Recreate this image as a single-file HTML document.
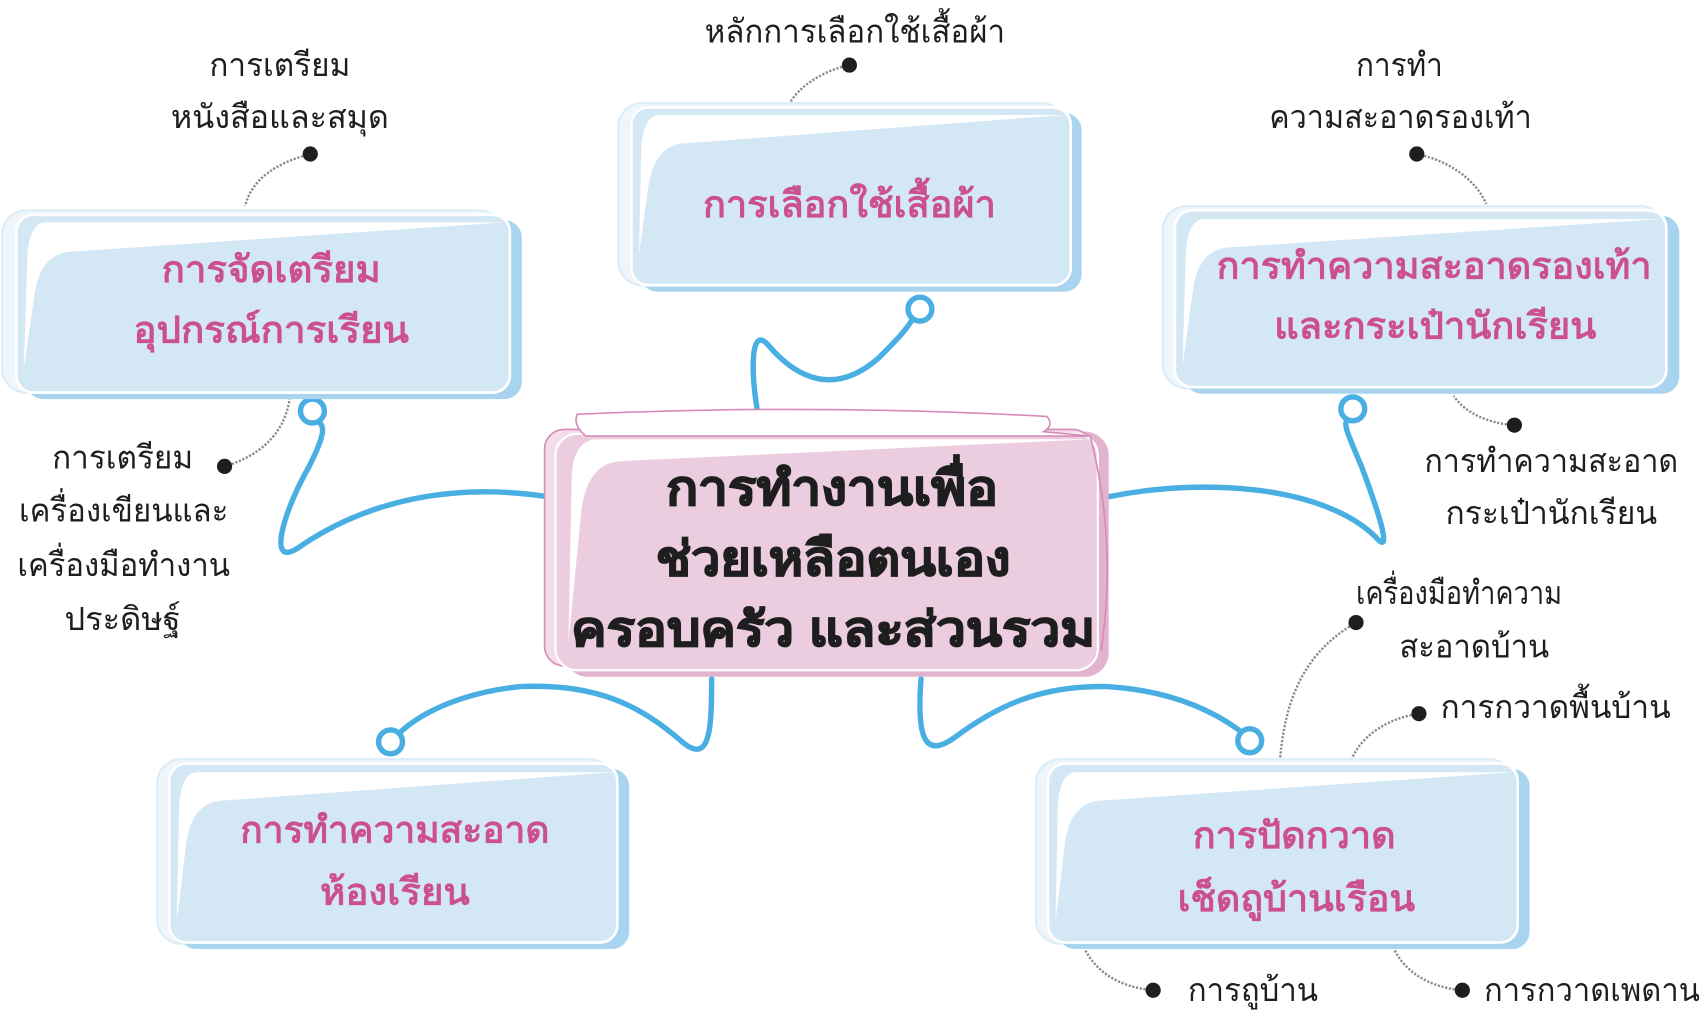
<!DOCTYPE html>
<html><head><meta charset="utf-8">
<style>
html,body{margin:0;padding:0;background:#fff;}
svg{display:block;}
text{font-family:"Liberation Sans","DejaVu Sans",sans-serif;}
.lb{font-size:30px;fill:#1e1e1e;}
.bx{font-size:34px;fill:#cc4f8f;font-weight:bold;}
.ct{font-size:44px;fill:#1e1e1e;font-weight:bold;stroke:#1e1e1e;stroke-width:1.2;}
.dot{fill:#1e1e1e;}
.dl{fill:none;stroke:#8a8a8a;stroke-width:2.2;stroke-dasharray:2 1.5;}
.bl{fill:none;stroke:#49aee2;stroke-width:5;stroke-linecap:round;}
.ring{fill:#fff;stroke:#49aee2;stroke-width:5;}
</style></head>
<body>
<svg width="1701" height="1013" viewBox="0 0 1568 934" preserveAspectRatio="none" xmlns="http://www.w3.org/2000/svg">

<path class="bl" d="M505,458 C420,445 340,460 275,505 C245,525 262,470 285,430 C300,400 300,392 292,388"/>
<circle class="ring" cx="288" cy="379" r="11"/>
<path class="bl" d="M698,378 C692,340 692,300 708,318 C735,350 770,365 810,330 C825,315 835,305 842,293"/>
<circle class="ring" cx="848" cy="285" r="11"/>
<path class="bl" d="M1022,458 C1110,440 1220,448 1268,495 C1285,515 1270,470 1255,430 C1240,395 1238,390 1243,387"/>
<circle class="ring" cx="1247" cy="377" r="11"/>
<path class="bl" d="M656,626 C656,670 655,705 630,685 C590,650 550,630 480,633 C430,638 390,655 368,676"/>
<circle class="ring" cx="360" cy="684" r="11"/>
<path class="bl" d="M849,626 C845,680 852,700 880,680 C920,650 960,632 1020,633 C1070,636 1110,650 1142,673"/>
<circle class="ring" cx="1152" cy="683" r="11"/>

<path class="dl" d="M286,142 C255,150 232,165 226,190"/>
<circle class="dot" cx="286" cy="142" r="7"/>
<path class="dl" d="M783,60 C760,65 738,78 728,95"/>
<circle class="dot" cx="783" cy="60" r="7"/>
<path class="dl" d="M1306,142 C1335,148 1360,165 1370,188"/>
<circle class="dot" cx="1306" cy="142" r="7"/>
<path class="dl" d="M207,430 C240,420 262,400 267,368"/>
<circle class="dot" cx="207" cy="430" r="7"/>
<path class="dl" d="M1396,392 C1370,390 1350,380 1340,365"/>
<circle class="dot" cx="1396" cy="392" r="7"/>
<path class="dl" d="M1250,574 C1205,600 1185,640 1180,700"/>
<circle class="dot" cx="1250" cy="574" r="7"/>
<path class="dl" d="M1308,658 C1280,662 1255,678 1246,700"/>
<circle class="dot" cx="1308" cy="658" r="7"/>
<path class="dl" d="M1063,913 C1030,910 1010,895 1000,875"/>
<circle class="dot" cx="1063" cy="913" r="7"/>
<path class="dl" d="M1348,913 C1315,910 1295,895 1285,875"/>
<circle class="dot" cx="1348" cy="913" r="7"/>

<g>
<rect x="2" y="194" width="462" height="168" rx="22" fill="#eef6fc" stroke="#dcedf8" stroke-width="2"/>
<rect x="24" y="203" width="457" height="165" rx="16" fill="#a9d4ef"/>
<rect x="15" y="198" width="455" height="164" rx="16" fill="#d3e7f5" stroke="#fff" stroke-width="2.5"/>
<path d="M22,340 L32,270 Q38,232 68,232 L465,205 L40,205 Q26,208 25,240 Z" fill="#fff"/>
</g>
<g>
<rect x="570" y="95" width="412" height="168" rx="22" fill="#eef6fc" stroke="#dcedf8" stroke-width="2"/>
<rect x="590" y="104" width="407" height="165" rx="16" fill="#a9d4ef"/>
<rect x="582" y="99" width="405" height="164" rx="16" fill="#d3e7f5" stroke="#fff" stroke-width="2.5"/>
<path d="M589,235 L598,170 Q604,132 634,132 L982,106 L606,106 Q592,109 591,140 Z" fill="#fff"/>
</g>
<g>
<rect x="1072" y="190" width="462" height="168" rx="22" fill="#eef6fc" stroke="#dcedf8" stroke-width="2"/>
<rect x="1092" y="199" width="456" height="164" rx="16" fill="#a9d4ef"/>
<rect x="1083" y="194" width="453" height="163" rx="16" fill="#d3e7f5" stroke="#fff" stroke-width="2.5"/>
<path d="M1090,338 L1100,265 Q1106,228 1136,228 L1530,202 L1108,202 Q1094,205 1093,236 Z" fill="#fff"/>
</g>
<g>
<rect x="145" y="700" width="420" height="170" rx="22" fill="#eef6fc" stroke="#dcedf8" stroke-width="2"/>
<rect x="165" y="709" width="415" height="166" rx="16" fill="#a9d4ef"/>
<rect x="156" y="704" width="413" height="165" rx="16" fill="#d3e7f5" stroke="#fff" stroke-width="2.5"/>
<path d="M163,850 L172,775 Q178,738 208,738 L565,712 L180,712 Q166,715 165,746 Z" fill="#fff"/>
</g>
<g>
<rect x="955" y="700" width="440" height="170" rx="22" fill="#eef6fc" stroke="#dcedf8" stroke-width="2"/>
<rect x="975" y="709" width="435" height="166" rx="16" fill="#a9d4ef"/>
<rect x="966" y="704" width="433" height="165" rx="16" fill="#d3e7f5" stroke="#fff" stroke-width="2.5"/>
<path d="M973,850 L982,775 Q988,738 1018,738 L1395,712 L990,712 Q976,715 975,746 Z" fill="#fff"/>
</g>

<g>
<rect x="520" y="398" width="502" height="226" rx="22" fill="#e2b3cf"/>
<rect x="502" y="396" width="505" height="218" rx="18" fill="#f3dde9" stroke="#d68ab5" stroke-width="1.5"/>
<rect x="512" y="400" width="500" height="218" rx="20" fill="#eccde0" stroke="#fff" stroke-width="2"/>
<path d="M532,382 Q750,372 965,384 Q972,392 962,398 L1005,402 L540,402 Q528,392 532,382 Z" fill="#fff" stroke="#d68ab5" stroke-width="1.5"/>
<path d="M524,592 L536,470 Q542,425 575,425 L1005,405 L548,405 Q528,408 527,440 Z" fill="#fff"/>
<path d="M1005,402 Q1030,500 1015,600" fill="none" stroke="#d68ab5" stroke-width="1.5"/>
</g>

<text class="bx" x="250" y="260" text-anchor="middle" textLength="202" lengthAdjust="spacingAndGlyphs">การจัดเตรียม</text>
<text class="bx" x="250" y="316" text-anchor="middle" textLength="254" lengthAdjust="spacingAndGlyphs">อุปกรณ์การเรียน</text>
<text class="bx" x="783" y="200" text-anchor="middle" textLength="270" lengthAdjust="spacingAndGlyphs">การเลือกใช้เสื้อผ้า</text>
<text class="bx" x="1322" y="257" text-anchor="middle" textLength="401" lengthAdjust="spacingAndGlyphs">การทำความสะอาดรองเท้า</text>
<text class="bx" x="1323" y="312" text-anchor="middle" textLength="297" lengthAdjust="spacingAndGlyphs">และกระเป๋านักเรียน</text>
<text class="bx" x="364" y="777" text-anchor="middle" textLength="285" lengthAdjust="spacingAndGlyphs">การทำความสะอาด</text>
<text class="bx" x="364" y="834" text-anchor="middle" textLength="138" lengthAdjust="spacingAndGlyphs">ห้องเรียน</text>
<text class="bx" x="1193" y="782" text-anchor="middle" textLength="187" lengthAdjust="spacingAndGlyphs">การปัดกวาด</text>
<text class="bx" x="1195" y="840" text-anchor="middle" textLength="219" lengthAdjust="spacingAndGlyphs">เช็ดถูบ้านเรือน</text>

<text class="ct" x="767" y="465" text-anchor="middle" textLength="306" lengthAdjust="spacingAndGlyphs">การทำงานเพื่อ</text>
<text class="ct" x="768" y="530" text-anchor="middle" textLength="327" lengthAdjust="spacingAndGlyphs">ช่วยเหลือตนเอง</text>
<text class="ct" x="768" y="595" text-anchor="middle" textLength="483" lengthAdjust="spacingAndGlyphs">ครอบครัว และส่วนรวม</text>

<text class="lb" x="258" y="70" text-anchor="middle" textLength="130" lengthAdjust="spacingAndGlyphs">การเตรียม</text>
<text class="lb" x="258" y="118" text-anchor="middle" textLength="201" lengthAdjust="spacingAndGlyphs">หนังสือและสมุด</text>
<text class="lb" x="788" y="39" text-anchor="middle" textLength="277" lengthAdjust="spacingAndGlyphs">หลักการเลือกใช้เสื้อผ้า</text>
<text class="lb" x="1290" y="70" text-anchor="middle" textLength="80" lengthAdjust="spacingAndGlyphs">การทำ</text>
<text class="lb" x="1291" y="118" text-anchor="middle" textLength="242" lengthAdjust="spacingAndGlyphs">ความสะอาดรองเท้า</text>
<text class="lb" x="113" y="432" text-anchor="middle" textLength="130" lengthAdjust="spacingAndGlyphs">การเตรียม</text>
<text class="lb" x="114" y="481" text-anchor="middle" textLength="193" lengthAdjust="spacingAndGlyphs">เครื่องเขียนและ</text>
<text class="lb" x="114" y="531" text-anchor="middle" textLength="196" lengthAdjust="spacingAndGlyphs">เครื่องมือทำงาน</text>
<text class="lb" x="113" y="581" text-anchor="middle" textLength="107" lengthAdjust="spacingAndGlyphs">ประดิษฐ์</text>
<text class="lb" x="1430" y="435" text-anchor="middle" textLength="234" lengthAdjust="spacingAndGlyphs">การทำความสะอาด</text>
<text class="lb" x="1430" y="483" text-anchor="middle" textLength="195" lengthAdjust="spacingAndGlyphs">กระเป๋านักเรียน</text>
<text class="lb" x="1345" y="557" text-anchor="middle" textLength="190" lengthAdjust="spacingAndGlyphs">เครื่องมือทำความ</text>
<text class="lb" x="1359" y="606" text-anchor="middle" textLength="138" lengthAdjust="spacingAndGlyphs">สะอาดบ้าน</text>
<text class="lb" x="1328" y="662" textLength="212" lengthAdjust="spacingAndGlyphs">การกวาดพื้นบ้าน</text>
<text class="lb" x="1095" y="923" textLength="120" lengthAdjust="spacingAndGlyphs">การถูบ้าน</text>
<text class="lb" x="1368" y="923" textLength="199" lengthAdjust="spacingAndGlyphs">การกวาดเพดาน</text>
</svg>
</body></html>
